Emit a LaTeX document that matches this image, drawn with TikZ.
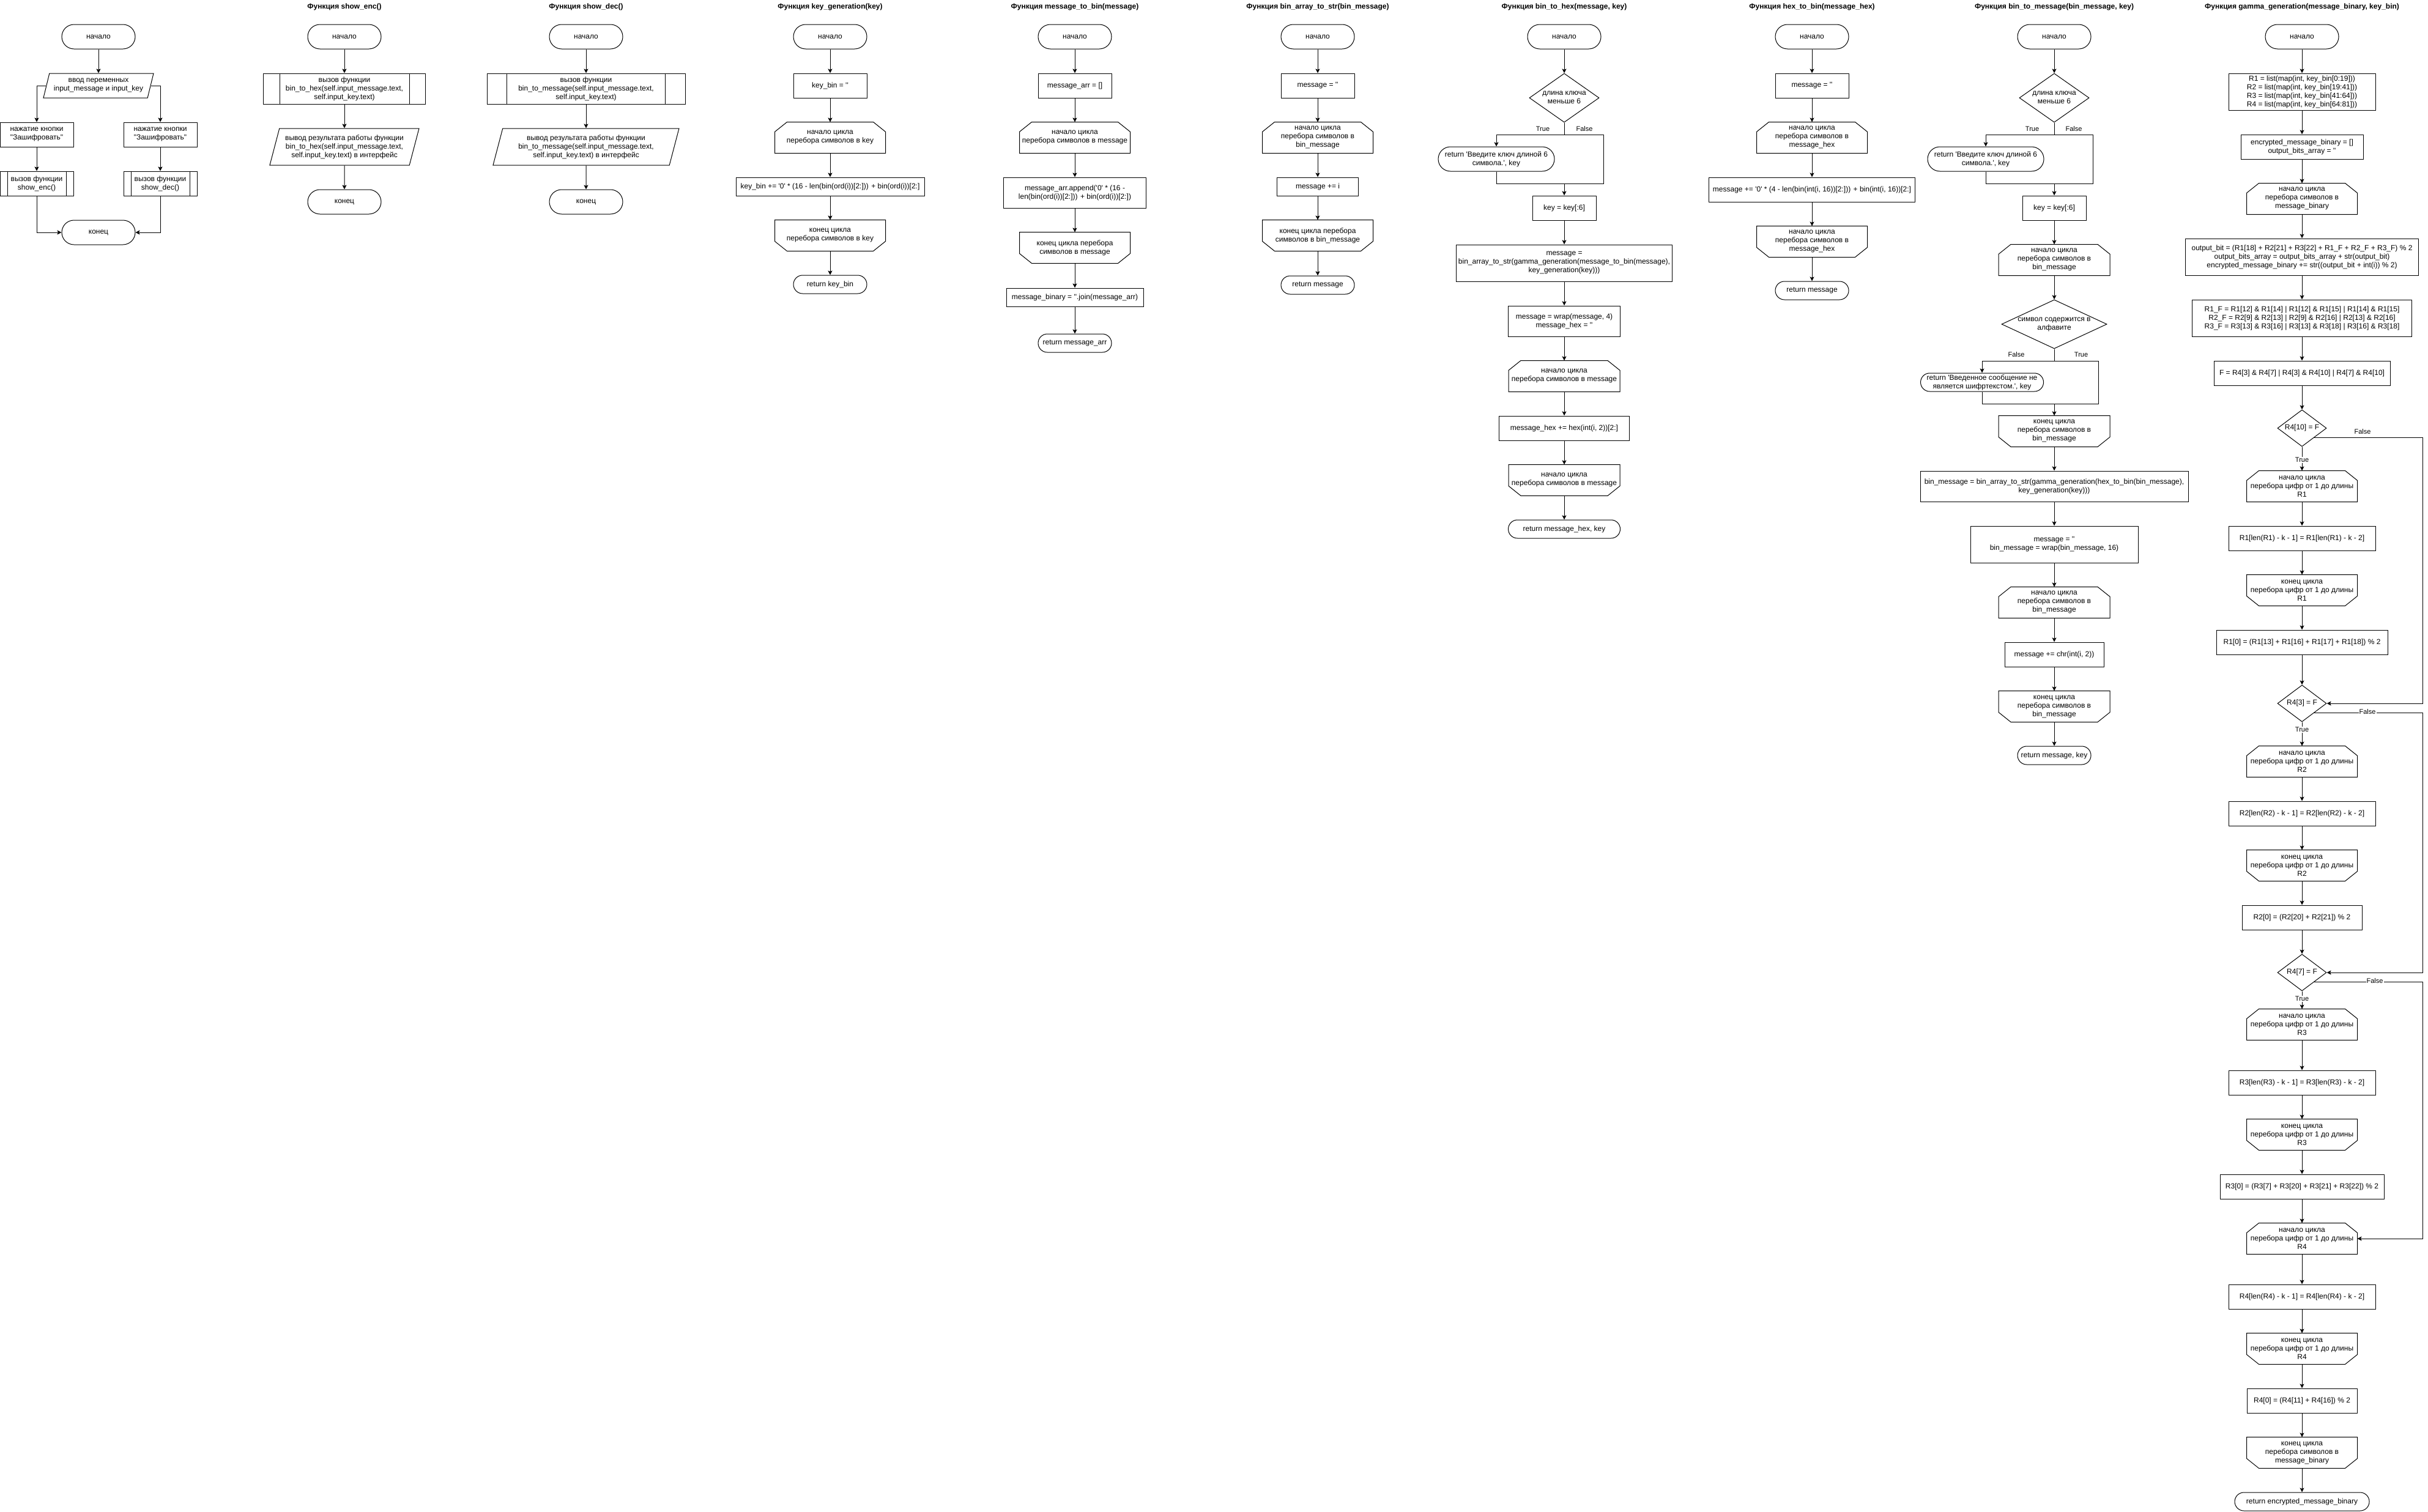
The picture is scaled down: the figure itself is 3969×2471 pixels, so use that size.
\documentclass[tikz,border=0pt]{standalone}
\usepackage{fontspec}
\setmainfont{Liberation Sans}[Ligatures=TeXOff]
\usetikzlibrary{arrows.meta,shapes.geometric,calc}

% фигуры начала и конца цикла
\newdimen\lpL \newdimen\lpR \newdimen\lpT \newdimen\lpB
\makeatletter
\def\lpcorners{\southwest \lpL=\pgf@x \lpB=\pgf@y \northeast \lpR=\pgf@x \lpT=\pgf@y}
\pgfdeclareshape{loopstart}{
  \inheritsavedanchors[from=rectangle]
  \inheritanchorborder[from=rectangle]
  \inheritanchor[from=rectangle]{center}
  \inheritanchor[from=rectangle]{north}
  \inheritanchor[from=rectangle]{south}
  \inheritanchor[from=rectangle]{east}
  \inheritanchor[from=rectangle]{west}
  \backgroundpath{\lpcorners
    \pgfpathmoveto{\pgfqpoint{\lpL}{\lpB}}
    \pgfpathlineto{\pgfqpoint{\lpL}{\dimexpr\lpT-16pt\relax}}
    \pgfpathlineto{\pgfqpoint{\dimexpr\lpL+20pt\relax}{\lpT}}
    \pgfpathlineto{\pgfqpoint{\dimexpr\lpR-20pt\relax}{\lpT}}
    \pgfpathlineto{\pgfqpoint{\lpR}{\dimexpr\lpT-16pt\relax}}
    \pgfpathlineto{\pgfqpoint{\lpR}{\lpB}}
    \pgfpathclose}
}
\pgfdeclareshape{loopend}{
  \inheritsavedanchors[from=rectangle]
  \inheritanchorborder[from=rectangle]
  \inheritanchor[from=rectangle]{center}
  \inheritanchor[from=rectangle]{north}
  \inheritanchor[from=rectangle]{south}
  \inheritanchor[from=rectangle]{east}
  \inheritanchor[from=rectangle]{west}
  \backgroundpath{\lpcorners
    \pgfpathmoveto{\pgfqpoint{\lpL}{\lpT}}
    \pgfpathlineto{\pgfqpoint{\lpL}{\dimexpr\lpB+16pt\relax}}
    \pgfpathlineto{\pgfqpoint{\dimexpr\lpL+20pt\relax}{\lpB}}
    \pgfpathlineto{\pgfqpoint{\dimexpr\lpR-20pt\relax}{\lpB}}
    \pgfpathlineto{\pgfqpoint{\lpR}{\dimexpr\lpB+16pt\relax}}
    \pgfpathlineto{\pgfqpoint{\lpR}{\lpT}}
    \pgfpathclose}
}
\makeatother

% текст внутри ромба без влияния на его размер
\newcommand{\dtxt}[1]{\smash{\makebox[0pt]{\raisebox{-3pt}{\begin{tabular}{@{}c@{}}#1\end{tabular}}}}}

\tikzset{
  every node/.style={align=center, inner sep=2pt},
  term/.style 2 args={draw, rectangle, rounded corners=#2*0.5pt, minimum width=#1pt, minimum height=#2pt},
  proc/.style 2 args={draw, rectangle, minimum width=#1pt, minimum height=#2pt},
  subr/.style 2 args={proc={#1}{#2},
    path picture={\draw ($(path picture bounding box.north west)!0.1!(path picture bounding box.north east)$) -- ($(path picture bounding box.south west)!0.1!(path picture bounding box.south east)$) ($(path picture bounding box.north west)!0.9!(path picture bounding box.north east)$) -- ($(path picture bounding box.south west)!0.9!(path picture bounding box.south east)$);}},
  para/.style 2 args={draw, trapezium, trapezium left angle=70, trapezium right angle=110,
    trapezium stretches body, minimum width=#1pt, minimum height=#2pt},
  loopA/.style={draw, shape=loopstart, minimum width=#1pt, minimum height=50pt},
  loopB/.style={draw, shape=loopend, minimum width=#1pt, minimum height=50pt},
  dec/.style 2 args={draw, diamond, inner sep=0pt, minimum width=#1pt, minimum height=#2pt},
  lbl/.style={font=\fontsize{11}{13}\selectfont, inner sep=1pt},
  title/.style={font=\fontsize{12}{14}\selectfont\bfseries},
  arr/.style={-{Stealth[length=7pt, width=7pt, inset=1.5pt]}}
}

\begin{document}
\begin{tikzpicture}[x=1pt, y=-1pt, line width=1pt,
    font=\fontsize{12}{14}\selectfont]
  \fill[white] (0,0) rectangle (3969,2471);
  \useasboundingbox (0,0) rectangle (3969,2471);

  % Заголовки функций
  \foreach \x/\t in {563/{show\_enc()}, 958/{show\_dec()}, 1357/{key\_generation(key)},
      1757/{message\_to\_bin(message)}, 2154/{bin\_array\_to\_str(bin\_message)},
      2557/{bin\_to\_hex(message, key)}, 2962/{hex\_to\_bin(message\_hex)},
      3358/{bin\_to\_message(bin\_message, key)}, 3763/{gamma\_generation(message\_binary, key\_bin)}}
    \node[title] (t\x) at (\x,11) {Функция \t};

  % Главная программа
  \node[term={120}{40}] (m0) at (161,60) {начало};
  \node[para={180}{40}] (m1) at (161,140) {ввод переменных\\input\_message и input\_key};
  \node[proc={120}{40}] (m2) at (60,220) {нажатие кнопки\\"Зашифровать"};
  \node[proc={120}{40}] (m3) at (262,220) {нажатие кнопки\\"Зашифровать"};
  \node[subr={120}{40}] (m4) at (60,300) {вызов функции\\show\_enc()};
  \node[subr={120}{40}] (m5) at (262,300) {вызов функции\\show\_dec()};
  \node[term={120}{40}] (m6) at (161,380) {конец};
  \draw[arr] (m0) -- (m1);
  \draw[arr] (m1.west) -| (m2.north);
  \draw[arr] (m1.east) -| (m3.north);
  \draw[arr] (m2) -- (m4);
  \draw[arr] (m3) -- (m5);
  \draw[arr] (m4.south) |- (m6.west);
  \draw[arr] (m5.south) |- (m6.east);

  % Функция show_enc()
  \node[term={120}{40}] (e0) at (563,60) {начало};
  \node[subr={265}{50}] (e1) at (563,145) {вызов функции\\bin\_to\_hex(self.input\_message.text,\\self.input\_key.text)};
  \node[para={244}{60}] (e2) at (563,240) {вывод результата работы функции\\bin\_to\_hex(self.input\_message.text,\\self.input\_key.text) в интерфейс};
  \node[term={120}{40}] (e3) at (563,330) {конец};
  \foreach \a/\b in {e0/e1, e1/e2, e2/e3}
    \draw[arr] (\a) -- (\b);

  % Функция show_dec()
  \node[term={120}{40}] (d0) at (958,60) {начало};
  \node[subr={324}{50}] (d1) at (958,145) {вызов функции\\bin\_to\_message(self.input\_message.text,\\self.input\_key.text)};
  \node[para={304}{60}] (d2) at (958,240) {вывод результата работы функции\\bin\_to\_message(self.input\_message.text,\\self.input\_key.text) в интерфейс};
  \node[term={120}{40}] (d3) at (958,330) {конец};
  \foreach \a/\b in {d0/d1, d1/d2, d2/d3}
    \draw[arr] (\a) -- (\b);

  % Функция key_generation(key)
  \node[term={120}{40}] (k0) at (1357,60) {начало};
  \node[proc={120}{40}] (k1) at (1357,140) {key\_bin = ''};
  \node[loopA=180] (k2) at (1357,225) {начало цикла\\перебора символов в key};
  \node[proc={308}{30}] (k3) at (1357,305) {key\_bin += '0' * (16 - len(bin(ord(i))[2:])) + bin(ord(i))[2:]};
  \node[loopB=180] (k4) at (1357,385) {конец цикла\\перебора символов в key};
  \node[term={120}{30}] (k5) at (1357,465) {return key\_bin};
  \foreach \a/\b in {k0/k1, k1/k2, k2/k3, k3/k4, k4/k5}
    \draw[arr] (\a) -- (\b);

  % Функция message_to_bin(message)
  \node[term={120}{40}] (s0) at (1757,60) {начало};
  \node[proc={120}{40}] (s1) at (1757,140) {message\_arr = []};
  \node[loopA=180] (s2) at (1757,225) {начало цикла\\перебора символов в message};
  \node[proc={233}{50}] (s3) at (1757,315) {message\_arr.append('0' * (16 -\\len(bin(ord(i))[2:])) + bin(ord(i))[2:])};
  \node[loopB=180] (s4) at (1757,405) {конец цикла перебора\\символов в message};
  \node[proc={224}{30}] (s5) at (1757,486) {message\_binary = ''.join(message\_arr)};
  \node[term={120}{30}] (s6) at (1757,561) {return message\_arr};
  \foreach \a/\b in {s0/s1, s1/s2, s2/s3, s3/s4, s4/s5, s5/s6}
    \draw[arr] (\a) -- (\b);

  % Функция bin_array_to_str(bin_message)
  \node[term={120}{40}] (a0) at (2154,60) {начало};
  \node[proc={120}{40}] (a1) at (2154,140) {message = ''};
  \node[loopA=180] (a2) at (2154,225) {начало цикла\\перебора символов в\\bin\_message};
  \node[proc={133}{30}] (a3) at (2154,305) {message += i};
  \node[loopB=180] (a4) at (2154,385) {конец цикла перебора\\символов в bin\_message};
  \node[term={120}{30}] (a5) at (2154,466) {return message};
  \foreach \a/\b in {a0/a1, a1/a2, a2/a3, a3/a4, a4/a5}
    \draw[arr] (\a) -- (\b);

  % Функция bin_to_hex(message, key)
  \node[term={120}{40}] (h0) at (2557,60) {начало};
  \node[dec={114}{80}] (h1) at (2557,160) {\dtxt{длина ключа\\меньше 6}};
  \node[term={190}{40}] (h2) at (2446,260) {return 'Введите ключ длиной 6\\символа.', key};
  \node[proc={104}{40}] (h3) at (2557,340) {key = key[:6]};
  \node[proc={353}{60}] (h4) at (2557,430) {message =\\bin\_array\_to\_str(gamma\_generation(message\_to\_bin(message),\\key\_generation(key)))};
  \node[proc={183}{50}] (h5) at (2557,525) {message = wrap(message, 4)\\message\_hex = ''};
  \node[loopA=181] (h6) at (2557,615) {начало цикла\\перебора символов в message};
  \node[proc={213}{40}] (h7) at (2557,700) {message\_hex += hex(int(i, 2))[2:]};
  \node[loopB=181] (h8) at (2557,785) {начало цикла\\перебора символов в message};
  \node[term={183}{30}] (h9) at (2557,865) {return message\_hex, key};
  \coordinate (h1r) at (2621,220);
  \coordinate (h1m) at (2557,300);
  \draw (h1.south) |- (h1r) |- (h1m);
  \draw[arr] (h1.south |- h1r) -| (h2.north);
  \draw (h2.south) |- (h1m);
  \draw[arr] (h1m) -- (h3.north);
  \foreach \a/\b in {h0/h1, h3/h4, h4/h5, h5/h6, h6/h7, h7/h8, h8/h9}
    \draw[arr] (\a) -- (\b);
  \node[lbl] (h1t) at (2522,211) {True};
  \node[lbl] (h1f) at (2590,211) {False};

  % Функция hex_to_bin(message_hex)
  \node[term={120}{40}] (x0) at (2962,60) {начало};
  \node[proc={120}{40}] (x1) at (2962,140) {message = ''};
  \node[loopA=180] (x2) at (2962,225) {начало цикла\\перебора символов в\\message\_hex};
  \node[proc={337}{40}] (x3) at (2962,310) {message += '0' * (4 - len(bin(int(i, 16))[2:])) + bin(int(i, 16))[2:]};
  \node[loopB=180] (x4) at (2962,395) {начало цикла\\перебора символов в\\message\_hex};
  \node[term={120}{30}] (x5) at (2962,475) {return message};
  \foreach \a/\b in {x0/x1, x1/x2, x2/x3, x3/x4, x4/x5}
    \draw[arr] (\a) -- (\b);

  % Функция bin_to_message(bin_message, key)
  \node[term={120}{40}] (b0) at (3358,60) {начало};
  \node[dec={114}{80}] (b1) at (3358,160) {\dtxt{длина ключа\\меньше 6}};
  \node[term={190}{40}] (b2) at (3246,260) {return 'Введите ключ длиной 6\\символа.', key};
  \node[proc={104}{40}] (b3) at (3358,340) {key = key[:6]};
  \node[loopA=181] (b4) at (3358,425) {начало цикла\\перебора символов в\\bin\_message};
  \node[dec={172}{80}] (b5) at (3358,530) {\dtxt{символ содержится в\\алфавите}};
  \node[term={201}{30}] (b6) at (3240,625) {return 'Введенное сообщение не\\является шифртекстом.', key};
  \node[loopB=181] (b7) at (3358,705) {конец цикла\\перебора символов в\\bin\_message};
  \node[proc={438}{50}] (b8) at (3358,795) {bin\_message = bin\_array\_to\_str(gamma\_generation(hex\_to\_bin(bin\_message),\\key\_generation(key)))};
  \node[proc={274}{60}] (b9) at (3358,890) {message = ''\\bin\_message = wrap(bin\_message, 16)};
  \node[loopA=181] (b10) at (3358,985) {начало цикла\\перебора символов в\\bin\_message};
  \node[proc={162}{40}] (b11) at (3358,1070) {message += chr(int(i, 2))};
  \node[loopB=181] (b12) at (3358,1155) {конец цикла\\перебора символов в\\bin\_message};
  \node[term={120}{30}] (b13) at (3358,1235) {return message, key};
  \coordinate (b1r) at (3421,220);
  \coordinate (b1m) at (3358,300);
  \draw (b1.south) |- (b1r) |- (b1m);
  \draw[arr] (b1.south |- b1r) -| (b2.north);
  \draw (b2.south) |- (b1m);
  \draw[arr] (b1m) -- (b3.north);
  \coordinate (b5r) at (3430,590);
  \coordinate (b5m) at (3358,660);
  \draw (b5.south) |- (b5r) |- (b5m);
  \draw[arr] (b5.south |- b5r) -| (b6.north);
  \draw (b6.south) |- (b5m);
  \draw[arr] (b5m) -- (b7.north);
  \foreach \a/\b in {b0/b1, b3/b4, b4/b5, b7/b8, b8/b9, b9/b10, b10/b11, b11/b12, b12/b13}
    \draw[arr] (\a) -- (\b);
  \node[lbl] (b1t) at (3322,211) {True};
  \node[lbl] (b1f) at (3390,211) {False};
  \node[lbl] (b5f) at (3296,580) {False};
  \node[lbl] (b5t) at (3402,580) {True};

  % Функция gamma_generation(message_binary, key_bin)
  \node[term={120}{40}] (g0) at (3763,60) {начало};
  \node[proc={240}{60}] (g1) at (3763,150) {R1 = list(map(int, key\_bin[0:19]))\\R2 = list(map(int, key\_bin[19:41]))\\R3 = list(map(int, key\_bin[41:64]))\\R4 = list(map(int, key\_bin[64:81]))};
  \node[proc={200}{40}] (g2) at (3763,240) {encrypted\_message\_binary = []\\output\_bits\_array = ''};
  \node[loopA=180] (g3) at (3763,325) {начало цикла\\перебора символов в\\message\_binary};
  \node[proc={381}{60}] (g4) at (3763,420) {output\_bit = (R1[18] + R2[21] + R3[22] + R1\_F + R2\_F + R3\_F) \% 2\\output\_bits\_array = output\_bits\_array + str(output\_bit)\\encrypted\_message\_binary += str((output\_bit + int(i)) \% 2)};
  \node[proc={359}{60}] (g5) at (3763,520) {R1\_F = R1[12] \& R1[14] | R1[12] \& R1[15] | R1[14] \& R1[15]\\R2\_F = R2[9] \& R2[13] | R2[9] \& R2[16] | R2[13] \& R2[16]\\R3\_F = R3[13] \& R3[16] | R3[13] \& R3[18] | R3[16] \& R3[18]};
  \node[proc={288}{40}] (g6) at (3763,610) {F = R4[3] \& R4[7] | R4[3] \& R4[10] | R4[7] \& R4[10]};
  \node[dec={80}{60}] (g7) at (3763,700) {\dtxt{R4[10] = F}};
  \node[loopA=180] (g8) at (3763,795) {начало цикла\\перебора цифр от 1 до длины\\R1};
  \node[proc={240}{40}] (g9) at (3763,880) {R1[len(R1) - k - 1] = R1[len(R1) - k - 2]};
  \node[loopB=180] (g10) at (3763,965) {конец цикла\\перебора цифр от 1 до длины\\R1};
  \node[proc={280}{40}] (g11) at (3763,1050) {R1[0] = (R1[13] + R1[16] + R1[17] + R1[18]) \% 2};
  \node[dec={80}{60}] (g12) at (3763,1150) {\dtxt{R4[3] = F}};
  \node[loopA=180] (g13) at (3763,1245) {начало цикла\\перебора цифр от 1 до длины\\R2};
  \node[proc={240}{40}] (g14) at (3763,1330) {R2[len(R2) - k - 1] = R2[len(R2) - k - 2]};
  \node[loopB=180] (g15) at (3763,1415) {конец цикла\\перебора цифр от 1 до длины\\R2};
  \node[proc={196}{40}] (g16) at (3763,1500) {R2[0] = (R2[20] + R2[21]) \% 2};
  \node[dec={80}{60}] (g17) at (3763,1590) {\dtxt{R4[7] = F}};
  \node[loopA=180] (g18) at (3763,1675) {начало цикла\\перебора цифр от 1 до длины\\R3};
  \node[proc={240}{40}] (g19) at (3763,1770) {R3[len(R3) - k - 1] = R3[len(R3) - k - 2]};
  \node[loopB=180] (g20) at (3763,1855) {конец цикла\\перебора цифр от 1 до длины\\R3};
  \node[proc={268}{40}] (g21) at (3763,1940) {R3[0] = (R3[7] + R3[20] + R3[21] + R3[22]) \% 2};
  \node[loopA=180] (g22) at (3763,2025) {начало цикла\\перебора цифр от 1 до длины\\R4};
  \node[proc={240}{40}] (g23) at (3763,2120) {R4[len(R4) - k - 1] = R4[len(R4) - k - 2]};
  \node[loopB=180] (g24) at (3763,2205) {конец цикла\\перебора цифр от 1 до длины\\R4};
  \node[proc={180}{40}] (g25) at (3763,2290) {R4[0] = (R4[11] + R4[16]) \% 2};
  \node[loopB=180] (g26) at (3763,2375) {конец цикла\\перебора символов в\\message\_binary};
  \node[term={220}{30}] (g27) at (3763,2455) {return encrypted\_message\_binary};
  \foreach \i in {0,...,26} {
    \pgfmathtruncatemacro\j{\i+1}
    \draw[arr] (g\i) -- (g\j);
  }
  % Ветви False справа
  \coordinate (gx) at (3960,0);
  \draw[arr] (g7.south east) -- (g7.south east -| gx) |- (g12.east);
  \draw[arr] (g12.south east) -- (g12.south east -| gx) |- (g17.east);
  \draw[arr] (g17.south east) -- (g17.south east -| gx) |- (g22.east);
  \node[lbl] (g7f) at (3862,706) {False};
  \node[lbl, fill=white] (g7t) at (3763,752) {True};
  \node[lbl, fill=white] (g12f) at (3870,1164) {False};
  \node[lbl, fill=white] (g12t) at (3763,1193) {True};
  \node[lbl, fill=white] (g17f) at (3882,1604) {False};
  \node[lbl, fill=white] (g17t) at (3763,1633) {True};
\end{tikzpicture}
\end{document}
